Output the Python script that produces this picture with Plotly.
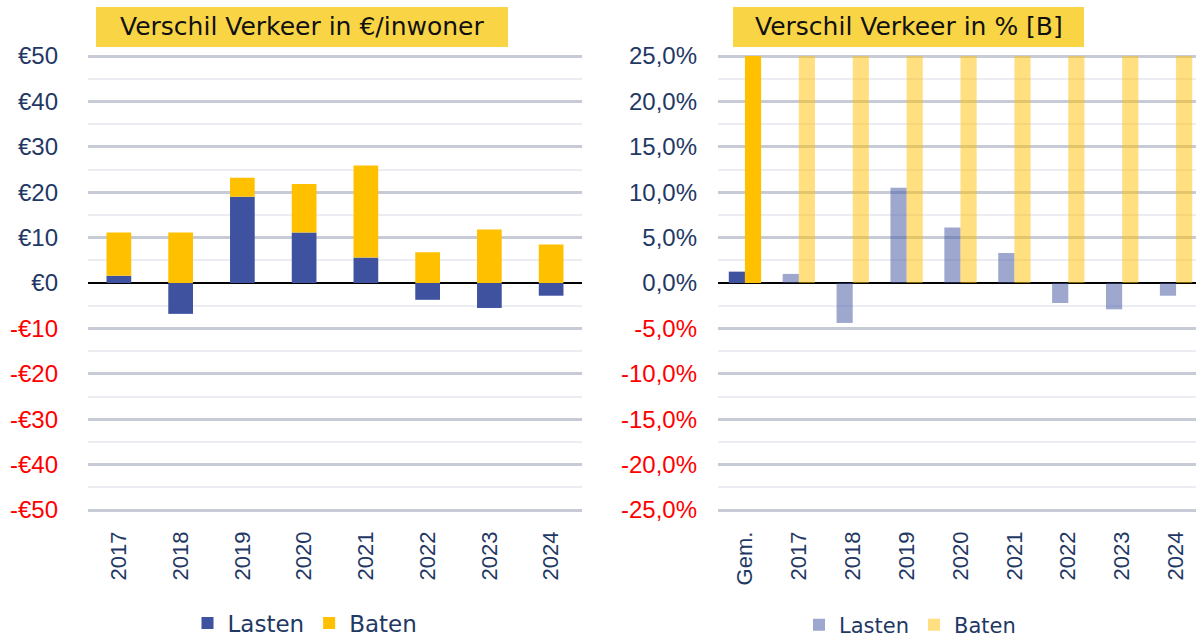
import plotly.graph_objects as go

# ---- data ---------------------------------------------------------------
years = ["2017", "2018", "2019", "2020", "2021", "2022", "2023", "2024"]

# difference in EUR per inhabitant (stacked: Lasten + Baten)
lasten_eur = [1.6, -6.8, 19.0, 11.1, 5.6, -3.7, -5.5, -2.8]
baten_eur = [9.5, 11.1, 4.2, 10.7, 20.3, 6.8, 11.8, 8.5]

# difference in percent
gem_label = "Gem."
lasten_pct_gem = [1.25]
baten_pct_gem = [25.0]
lasten_pct = [1.0, -4.4, 10.5, 6.1, 3.3, -2.2, -2.9, -1.4]
baten_pct = [25.0, 25.0, 25.0, 25.0, 25.0, 25.0, 25.0, 25.0]

eur_ticks = [50, 40, 30, 20, 10, 0, -10, -20, -30, -40, -50]
eur_labels = ["€50", "€40", "€30", "€20", "€10", "€0",
              "-€10", "-€20", "-€30", "-€40", "-€50"]
eur_minor = [45, 35, 25, 15, 5, -5, -15, -25, -35, -45]

pct_ticks = [25, 20, 15, 10, 5, 0, -5, -10, -15, -20, -25]
pct_labels = ["25,0%", "20,0%", "15,0%", "10,0%", "5,0%", "0,0%",
              "-5,0%", "-10,0%", "-15,0%", "-20,0%", "-25,0%"]
pct_minor = [22.5, 17.5, 12.5, 7.5, 2.5, -2.5, -7.5, -12.5, -17.5, -22.5]

titles = ["Verschil Verkeer in €/inwoner", "Verschil Verkeer in % [B]"]

# ---- styling ------------------------------------------------------------
W, H = 1196, 637
BLUE = "#3E52A0"
GOLD = "#FFC000"
BLUE_FADED = "rgba(62,82,160,0.5)"
GOLD_FADED = "rgba(255,192,0,0.5)"
NAVY = "#1F3864"
RED = "#FF0000"
GRID = "#C6CBD6"
GRID_MINOR = "#ECEDF2"
TITLE_BG = "#F9D546"
TICK_FONT = "Liberation Sans"
TEXT_FONT = "DejaVu Sans"

# small padding so the outermost grid lines stay inside the plot area
PAD = 1.2  # px
PLOT_TOP, PLOT_BOTTOM = 56, 510


def px_x(p):
    return p / W


def px_y(p):
    return 1 - p / H


def colored(labels, values):
    out = []
    for lab, v in zip(labels, values):
        if v < 0:
            out.append(f'<span style="color:{RED}">{lab}</span>')
        else:
            out.append(lab)
    return out


def padded(lo, hi):
    span = hi - lo
    extra = span * PAD / (PLOT_BOTTOM - PLOT_TOP)
    return [lo - extra, hi + extra]


fig = go.Figure()

# left chart: stacked bars (negative Lasten hang below zero, Baten start at zero)
baten_base = [max(v, 0) for v in lasten_eur]
fig.add_trace(go.Bar(
    x=years, y=lasten_eur, name="Lasten", marker=dict(color=BLUE, line=dict(width=0)),
    width=0.4, xaxis="x", yaxis="y", legend="legend",
))
fig.add_trace(go.Bar(
    x=years, y=baten_eur, base=baten_base, name="Baten",
    marker=dict(color=GOLD, line=dict(width=0)),
    width=0.4, xaxis="x", yaxis="y", legend="legend",
))

# right chart: grouped bars, average in full colour, years faded
pct_categories = [gem_label] + years
fig.add_trace(go.Bar(
    x=[gem_label], y=lasten_pct_gem, name="Lasten", showlegend=False,
    marker=dict(color=BLUE, line=dict(width=0)),
    width=0.3, offset=-0.3, xaxis="x2", yaxis="y2",
))
fig.add_trace(go.Bar(
    x=[gem_label], y=baten_pct_gem, name="Baten", showlegend=False,
    marker=dict(color=GOLD, line=dict(width=0)),
    width=0.3, offset=0.0, xaxis="x2", yaxis="y2",
))
fig.add_trace(go.Bar(
    x=years, y=lasten_pct, name="Lasten",
    marker=dict(color=BLUE_FADED, line=dict(width=0)),
    width=0.3, offset=-0.3, xaxis="x2", yaxis="y2", legend="legend2",
))
fig.add_trace(go.Bar(
    x=years, y=baten_pct, name="Baten",
    marker=dict(color=GOLD_FADED, line=dict(width=0)),
    width=0.3, offset=0.0, xaxis="x2", yaxis="y2", legend="legend2",
))

y_domain = [px_y(PLOT_BOTTOM + PAD), px_y(PLOT_TOP - PAD)]

common_x = dict(
    type="category", showgrid=False, zeroline=False, showline=False, ticks="",
    tickangle=-90, tickfont=dict(family=TICK_FONT, size=22, color=NAVY),
    ticklabelstandoff=15, fixedrange=True, automargin=False,
)
common_y = dict(
    tickmode="array", showline=False, ticks="",
    tickfont=dict(family=TICK_FONT, size=24, color=NAVY),
    gridcolor=GRID, gridwidth=2.5,
    zeroline=True, zerolinecolor="#000000", zerolinewidth=2,
    domain=y_domain, fixedrange=True, automargin=False,
)

fig.update_layout(
    width=W, height=H,
    margin=dict(l=0, r=0, t=0, b=0, autoexpand=False),
    paper_bgcolor="white", plot_bgcolor="white",
    barmode="overlay",
    xaxis=dict(common_x, domain=[px_x(88), px_x(582)], anchor="y",
               range=[-0.5, 7.5], categoryorder="array", categoryarray=years),
    yaxis=dict(common_y, anchor="x", range=padded(-50, 50), tickvals=eur_ticks,
               ticktext=colored(eur_labels, eur_ticks), ticklabelstandoff=29,
               minor=dict(tickvals=eur_minor, showgrid=True,
                          gridcolor=GRID_MINOR, gridwidth=1.5, ticks="")),
    xaxis2=dict(common_x, domain=[px_x(718), 1.0], anchor="y2",
                range=[-0.5, 8.37], categoryorder="array",
                categoryarray=pct_categories),
    yaxis2=dict(common_y, anchor="x2", range=padded(-25, 25), tickvals=pct_ticks,
                ticktext=colored(pct_labels, pct_ticks), ticklabelstandoff=20,
                minor=dict(tickvals=pct_minor, showgrid=True,
                           gridcolor=GRID_MINOR, gridwidth=1.5, ticks="")),
    legend=dict(
        orientation="h", x=px_x(305), xanchor="center", y=px_y(623), yanchor="middle",
        font=dict(family=TEXT_FONT, size=23, color=NAVY),
        bgcolor="rgba(0,0,0,0)", itemclick=False, itemdoubleclick=False,
        traceorder="normal",
    ),
    legend2=dict(
        orientation="h", x=px_x(910), xanchor="center", y=px_y(625), yanchor="middle",
        font=dict(family=TEXT_FONT, size=21, color=NAVY),
        bgcolor="rgba(0,0,0,0)", itemclick=False, itemdoubleclick=False,
        traceorder="normal",
    ),
    showlegend=True,
)

# title boxes
boxes = [(96, 508), (733, 1084)]
for (x0, x1), title in zip(boxes, titles):
    fig.add_shape(type="rect", xref="paper", yref="paper",
                  x0=px_x(x0), x1=px_x(x1), y0=px_y(47), y1=px_y(7),
                  fillcolor=TITLE_BG, line=dict(width=0), layer="above")
    fig.add_annotation(xref="paper", yref="paper", x=px_x((x0 + x1) / 2), y=px_y(27),
                       xanchor="center", yanchor="middle", showarrow=False,
                       text=title, font=dict(family=TEXT_FONT, size=25, color="#111111"))

fig.write_html("out.html")
